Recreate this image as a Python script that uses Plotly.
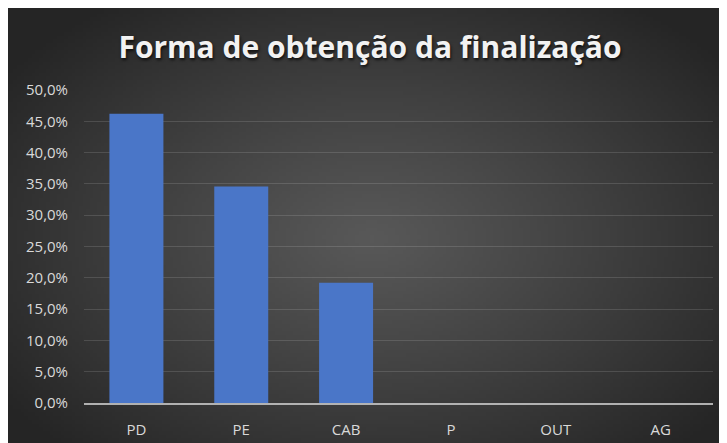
import base64, struct, zlib, math
import plotly.graph_objects as go

categories = ["PD", "PE", "CAB", "P", "OUT", "AG"]
values = [46.2, 34.6, 19.2, 0.0, 0.0, 0.0]
title_text = "Forma de obtenção da finalização"

W_FIG, H_FIG = 727, 443
ML, MR, MT, MB = 76, 22, 82, 48


def radial_png(w, h, c_in=88, c_out=37):
    rows = []
    for j in range(h):
        row = bytearray([0])
        for i in range(w):
            dx = (i / (w - 1) - 0.5) / 0.62
            dy = (j / (h - 1) - 0.52) / 0.66
            d = min(1.0, math.sqrt(dx * dx + dy * dy))
            v = int(round(c_in - (c_in - c_out) * d ** 1.1))
            row += bytes([v, v, v])
        rows.append(bytes(row))
    raw = b"".join(rows)

    def chunk(t, data):
        c = struct.pack(">I", len(data)) + t + data
        return c + struct.pack(">I", zlib.crc32(t + data) & 0xFFFFFFFF)

    png = b"\x89PNG\r\n\x1a\n"
    png += chunk(b"IHDR", struct.pack(">IIBBBBB", w, h, 8, 2, 0, 0, 0))
    png += chunk(b"IDAT", zlib.compress(raw, 9))
    png += chunk(b"IEND", b"")
    return "data:image/png;base64," + base64.b64encode(png).decode()


pw = W_FIG - ML - MR
ph = H_FIG - MT - MB

fig = go.Figure(
    go.Bar(
        x=categories,
        y=values,
        marker=dict(color="#4a76c8", line=dict(width=0)),
        width=0.515,
    )
)

fig.update_layout(
    width=W_FIG,
    height=H_FIG,
    margin=dict(l=ML, r=MR, t=MT, b=MB),
    paper_bgcolor="#2b2b2b",
    plot_bgcolor="rgba(0,0,0,0)",
    separators=",.",
    showlegend=False,
    images=[
        dict(
            source=radial_png(200, 120),
            xref="paper", yref="paper",
            x=-ML / pw, y=1 + MT / ph, sizex=W_FIG / pw, sizey=H_FIG / ph,
            xanchor="left", yanchor="top",
            sizing="stretch", layer="below",
        )
    ],
    title=dict(
        text=title_text,
        x=362 / W_FIG, xanchor="center",
        y=1 - 39 / H_FIG, yanchor="middle",
        yref="container", xref="container",
        font=dict(family="Open Sans", size=30, color="#f2f2f2", weight="bold",
                  shadow="1px 2px 3px rgba(0,0,0,0.7)"),
    ),
)

fig.update_yaxes(
    range=[0, 50],
    dtick=5,
    tickformat=".1f",
    ticksuffix="%",
    showgrid=True,
    gridcolor="rgba(255,255,255,0.13)",
    gridwidth=1,
    zeroline=False,
    showline=False,
    tickfont=dict(family="Open Sans", size=15, color="#d9d9d9"),
    ticklabelstandoff=15,
)
fig.update_xaxes(
    showline=True,
    linecolor="rgba(200,200,200,0.85)",
    linewidth=2,
    showgrid=False,
    tickfont=dict(family="Open Sans", size=15, color="#d9d9d9"),
    ticklabelstandoff=12,
)

fig.write_html("out.html")
